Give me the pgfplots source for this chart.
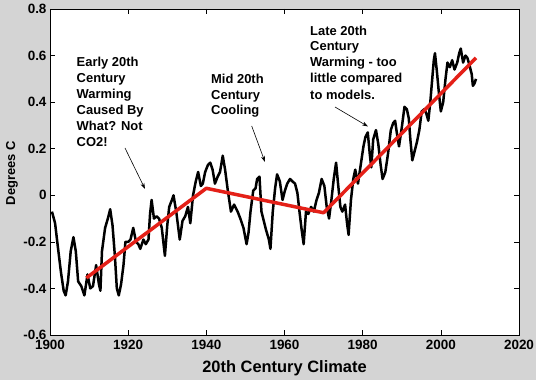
\documentclass[border=0pt]{standalone}
\usepackage{fontspec}
\setmainfont{Liberation Sans}
\usepackage{pgfplots}
\pgfplotsset{compat=1.18}
\usetikzlibrary{arrows.meta}
\definecolor{bg}{RGB}{212,212,212}
\definecolor{trend}{RGB}{228,32,24}
\begin{document}
\begin{tikzpicture}
\fill[bg] (0,0) rectangle (536bp,380bp);
\useasboundingbox (0,0) rectangle (536bp,380bp);
\begin{axis}[
  at={(50bp,45bp)}, anchor=south west,
  scale only axis, width=469bp, height=326bp,
  xmin=1900, xmax=2020, ymin=-0.6, ymax=0.8,
  axis background/.style={fill=white},
  axis line style={line width=0.8bp},
  xtick={1900,1920,1940,1960,1980,2000,2020},
  xticklabels={1900,1920,1940,1960,1980,2000,2020},
  ytick={-0.6,-0.4,-0.2,0,0.2,0.4,0.6,0.8},
  yticklabels={-0.6,-0.4,-0.2,0,0.2,0.4,0.6,0.8},
  tick align=inside, tick pos=both, major tick length=5bp,
  tick style={line width=0.6bp, black},
  /pgf/number format/assume math mode=true,
  ticklabel style={font=\bfseries\fontsize{13.5}{13.5}\selectfont},
  xticklabel style={yshift=-2bp},
  clip=false,
]
\addplot[black, line width=2.5bp, line join=round] coordinates {
(1900.5,-0.07) (1901.3,-0.12) (1902.0,-0.22) (1902.8,-0.33) (1903.5,-0.41)
(1904.0,-0.43) (1904.6,-0.37) (1905.3,-0.24) (1906.0,-0.18) (1906.6,-0.24)
(1907.2,-0.37) (1908.0,-0.39) (1908.8,-0.43) (1909.6,-0.34) (1910.3,-0.40)
(1911.0,-0.39) (1911.8,-0.30) (1912.5,-0.38) (1912.9,-0.41) (1913.3,-0.24)
(1914.1,-0.14) (1914.8,-0.10) (1915.4,-0.06) (1916.0,-0.13) (1916.6,-0.26)
(1917.1,-0.40) (1917.6,-0.43) (1918.2,-0.38) (1918.8,-0.30) (1919.3,-0.20)
(1920.0,-0.20) (1920.6,-0.19) (1921.3,-0.14) (1922.0,-0.20) (1922.6,-0.21)
(1923.1,-0.23) (1923.9,-0.19) (1924.5,-0.21) (1925.2,-0.19) (1925.6,-0.08)
(1926.0,-0.02) (1926.6,-0.10) (1927.3,-0.09) (1927.9,-0.10) (1928.6,-0.14)
(1929.4,-0.26) (1930.0,-0.13) (1930.5,-0.05) (1931.2,-0.02) (1931.6,0.00)
(1932.3,-0.07) (1933.2,-0.19) (1933.9,-0.11) (1934.6,-0.09) (1935.3,-0.05)
(1935.9,-0.12) (1936.6,0.00) (1937.3,0.06) (1937.9,0.10) (1938.6,0.04)
(1939.1,0.05) (1939.7,0.10) (1940.4,0.13) (1941.0,0.14) (1941.6,0.11)
(1942.2,0.05) (1942.9,0.08) (1943.5,0.10) (1944.2,0.17) (1944.8,0.11)
(1945.5,0.02) (1946.3,-0.07) (1947.1,-0.04) (1948.0,-0.07) (1948.7,-0.10)
(1949.5,-0.14) (1950.3,-0.21) (1950.8,-0.16) (1951.3,-0.07) (1952.0,0.02)
(1952.6,0.03) (1953.0,0.07) (1953.6,0.08) (1954.1,-0.07) (1954.7,-0.11)
(1955.3,-0.15) (1956.0,-0.19) (1956.4,-0.23) (1957.0,-0.07) (1957.6,0.03)
(1958.1,0.09) (1958.8,0.06) (1959.5,-0.02) (1960.1,0.02) (1960.7,0.05)
(1961.4,0.07) (1962.0,0.06) (1962.7,0.05) (1963.3,0.01) (1963.9,-0.08)
(1964.4,-0.15) (1964.9,-0.21) (1965.5,-0.07) (1966.1,-0.08) (1966.8,-0.05)
(1967.5,-0.07) (1968.2,-0.02) (1968.8,0.01) (1969.5,0.07) (1970.2,0.04)
(1970.8,-0.05) (1971.4,-0.10) (1972.0,-0.02) (1972.6,0.07) (1973.2,0.14)
(1973.7,0.05) (1974.3,-0.05) (1974.8,-0.07) (1975.5,-0.04) (1976.0,-0.12)
(1976.4,-0.17) (1977.0,-0.02) (1977.6,0.07) (1978.1,0.11) (1978.8,0.05)
(1979.5,0.13) (1980.2,0.21) (1980.7,0.25) (1981.3,0.27) (1981.8,0.18)
(1982.2,0.12) (1982.7,0.24) (1983.4,0.28) (1984.0,0.22) (1984.6,0.13)
(1985.1,0.07) (1985.8,0.10) (1986.5,0.18) (1987.2,0.28) (1987.8,0.31)
(1988.3,0.32) (1988.9,0.25) (1989.3,0.21) (1990.0,0.29) (1990.7,0.38)
(1991.3,0.37) (1991.8,0.33) (1992.2,0.24) (1992.7,0.15) (1993.3,0.19)
(1993.9,0.23) (1994.5,0.28) (1995.1,0.36) (1995.8,0.37) (1996.3,0.35)
(1996.8,0.32) (1997.3,0.40) (1997.8,0.50) (1998.2,0.58) (1998.5,0.61)
(1999.0,0.53) (1999.5,0.44) (2000.0,0.36) (2000.6,0.40) (2001.2,0.50)
(2001.7,0.57) (2002.3,0.55) (2002.9,0.58) (2003.5,0.54) (2004.2,0.57)
(2004.7,0.61) (2005.1,0.63) (2005.7,0.57) (2006.3,0.60) (2006.8,0.59)
(2007.3,0.56) (2007.9,0.52) (2008.2,0.47) (2008.6,0.48) (2009.0,0.50)
};
\addplot[trend, line width=3.5bp, line join=round] coordinates {
(1909.3,-0.355) (1940.0,0.03) (1970.0,-0.075) (2009.0,0.59)
};
\end{axis}
\begin{scope}[x=1bp,y=1bp]
\tikzset{ann/.style={anchor=base west, inner sep=0pt, font=\bfseries\fontsize{13}{13}\selectfont}}
\node[ann] at (76.5,313.3) {Early 20th};
\node[ann] at (76.5,297.5) {Century};
\node[ann] at (76.5,281.7) {Warming};
\node[ann] at (76.5,265.8) {Caused By};
\node[ann] at (76.5,250) {What? Not};
\node[ann] at (76.5,234) {CO2!};
\node[ann] at (211,296.7) {Mid 20th};
\node[ann] at (211,281) {Century};
\node[ann] at (211,265.7) {Cooling};
\node[ann] at (310,345) {Late 20th};
\node[ann] at (310,329.3) {Century};
\node[ann] at (310,313.3) {Warming - too};
\node[ann] at (310,297.3) {little compared};
\node[ann] at (310,281) {to models.};
\draw[line width=0.6bp, -{Stealth[length=6bp,width=4bp]}] (125,232) -- (145,191);
\draw[line width=0.6bp, -{Stealth[length=6bp,width=4bp]}] (251.7,254) -- (265,218);
\draw[line width=0.6bp, -{Stealth[length=6bp,width=4bp]}] (335,273) -- (368,253.5);
\node[anchor=base, inner sep=0pt, font=\bfseries\fontsize{16.5}{16.5}\selectfont] at (284.5,8) {20th Century Climate};
\node[anchor=base, rotate=90, inner sep=0pt, font=\bfseries\fontsize{13}{13}\selectfont] at (15,207) {Degrees C};
\end{scope}
\end{tikzpicture}
\end{document}
